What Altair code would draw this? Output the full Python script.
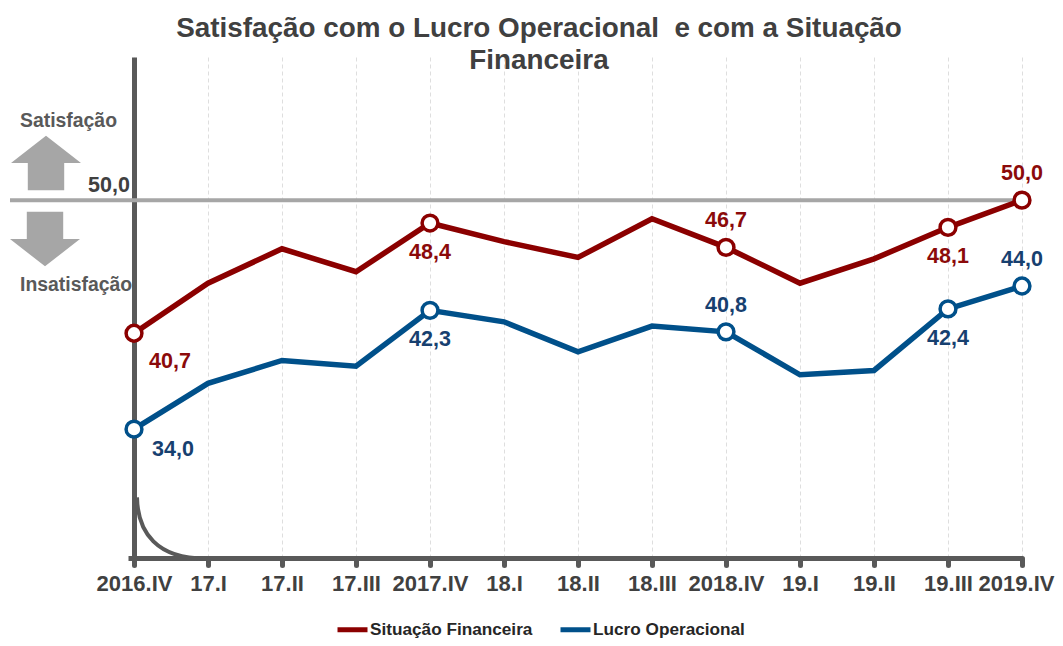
import altair as alt
import pandas as pd

categories = ["2016.IV","17.I","17.II","17.III","2017.IV","18.I","18.II","18.III","2018.IV","19.I","19.II","19.III","2019.IV"]
situacao = [40.7,44.2,46.6,45.0,48.4,47.1,46.0,48.7,46.7,44.2,45.9,48.1,50.0]
lucro = [34.0,37.2,38.8,38.4,42.3,41.5,39.4,41.2,40.8,37.8,38.1,42.4,44.0]
names = ["Situação Financeira","Lucro Operacional"]
colors = ["#8B0000","#00508A"]
text_colors = ["#8B0A0A","#17406F"]
marked = [0,4,8,11,12]
FONT = "Liberation Sans"
GREY = "#595959"

x_enc = alt.X("cat:N", sort=categories,
    scale=alt.Scale(type="point", padding=0, domain=categories),
    axis=alt.Axis(title=None, labelFont=FONT, labelFontSize=22, labelFontWeight="bold", labelColor="#404040",
        labelAngle=0, labelPadding=8, labelOverlap=False, labelFlush=False, domainColor=GREY, domainWidth=5,
        labelOffset=alt.expr("datum.value === '2019.IV' ? -6 : 0"),
        tickColor=GREY, tickWidth=5, tickSize=7, tickCap="round", grid=True, gridColor="#DEDEDE", gridDash=[4,3], gridWidth=1))
y_enc = alt.Y("val:Q", scale=alt.Scale(domain=[25,60], nice=False, zero=False),
    axis=alt.Axis(title=None, values=[25], labels=False, domainColor=GREY, domainWidth=5, tickColor=GREY, tickWidth=5, tickSize=6, grid=False))

rows = []
for name, vals in zip(names, [situacao, lucro]):
    for c, v in zip(categories, vals):
        rows.append({"cat": c, "val": v, "serie": name})
df = pd.DataFrame(rows)

def lab(v):
    return f"{v:.1f}".replace(".", ",")

layers = []
# reference line at 50
layers.append(alt.Chart(pd.DataFrame({"val":[50]})).mark_rule(color="#A6A6A6", strokeWidth=4, clip=False).encode(
    y=y_enc, x=alt.value(-124), x2=alt.value(888)))

layers.append(alt.Chart(df).mark_line(strokeWidth=5.5, strokeJoin="miter").encode(
    x=x_enc, y=y_enc,
    color=alt.Color("serie:N", sort=names, scale=alt.Scale(domain=names, range=colors),
        legend=alt.Legend(title=None, orient="none", legendX=201, legendY=555, direction="horizontal", columns=2,
            symbolType="stroke", symbolSize=900, symbolStrokeWidth=5, labelFont=FONT, labelFontSize=17.2, labelFontWeight="bold",
            labelColor="#262626", labelOffset=0, columnPadding=17, labelLimit=300)),
))

offsets = {
    0: [(36,29),(39,21)],
    4: [(0,30),(0,30)],
    8: [(0,-26),(0,-26)],
    11: [(0,30),(0,30)],
    12: [(0,-26),(0,-26)],
}
for s, (name, vals, col, tcol) in enumerate(zip(names, [situacao, lucro], colors, text_colors)):
    pts = pd.DataFrame({"cat":[categories[i] for i in marked], "val":[vals[i] for i in marked]})
    layers.append(alt.Chart(pts).mark_point(filled=True, fill="white", stroke=col, strokeWidth=3.5, size=250, opacity=1).encode(x=x_enc, y=y_enc))
    for i in marked:
        dx, dy = offsets[i][s]
        t = pd.DataFrame({"cat":[categories[i]], "val":[vals[i]], "t":[lab(vals[i])]})
        layers.append(alt.Chart(t).mark_text(font=FONT, fontSize=21.5, fontWeight="bold", color=tcol, dx=dx, dy=dy, baseline="middle").encode(x=x_enc, y=y_enc, text="t:N"))

# side annotations
one = pd.DataFrame({"a":[1]})
def note(text, px, py, size=19.4, color="#595959"):
    return alt.Chart(pd.DataFrame({"t":[text]})).mark_text(font=FONT, fontSize=size, fontWeight="bold", color=color, align="left", baseline="middle").encode(
        x=alt.value(px), y=alt.value(py), text="t:N")
layers.append(note("Satisfação", -114, 64))
layers.append(note("Insatisfação", -114, 228))
layers.append(note("50,0", -46, 129, 21.5, "#404040"))

ARROW_UP = "M0,-0.78 L1,0 L0.52,0 L0.52,0.78 L-0.52,0.78 L-0.52,0 L-1,0 Z"
ARROW_DOWN = "M0,0.78 L1,0 L0.52,0 L0.52,-0.78 L-0.52,-0.78 L-0.52,0 L-1,0 Z"
layers.append(alt.Chart(one).mark_point(shape=ARROW_UP, filled=True, color="#A6A6A6", size=4900, opacity=1).encode(x=alt.value(-88), y=alt.value(106)))
layers.append(alt.Chart(one).mark_point(shape=ARROW_DOWN, filled=True, color="#A6A6A6", size=4900, opacity=1).encode(x=alt.value(-89), y=alt.value(182)))
# axis break ornament
layers.append(alt.Chart(one).mark_point(shape="M-1,-0.9 C-0.98,0.15 -0.4,0.9 1,0.9", filled=False, color=GREY, strokeWidth=4, size=4624, opacity=1).encode(x=alt.value(37), y=alt.value(471)))

chart = alt.layer(*layers).properties(
    width=888, height=501,
    padding={"left":126,"top":49,"right":33,"bottom":80},
    autosize=alt.AutoSizeParams(type="none"),
    background="white",
    title=alt.TitleParams(text=["Satisfação com o Lucro Operacional \u00a0e com a Situação","Financeira"], anchor="middle", dx=-39,
        font=FONT, fontSize=27.85, fontWeight="bold", color="#404040", lineHeight=32, offset=-18),
).configure_view(stroke=None)

chart.save("out.html", embed_options={"renderer": "svg", "actions": False})
